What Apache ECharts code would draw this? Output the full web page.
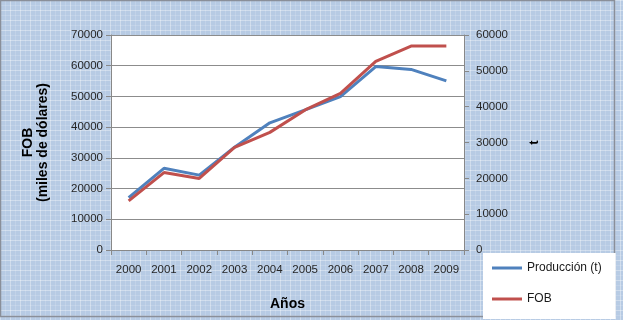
<!DOCTYPE html>
<html>
<head>
<meta charset="utf-8">
<script src="https://cdn.jsdelivr.net/npm/echarts@6/dist/echarts.min.js"></script>
<style>
  html, body { margin: 0; padding: 0; }
  #chart { width: 623px; height: 320px; }
</style>
</head>
<body>
<div id="chart"></div>
<script>
// datos
var years = ['2000', '2001', '2002', '2003', '2004', '2005', '2006', '2007', '2008', '2009'];
var produccion = [14600, 22800, 20900, 28700, 35500, 39100, 42800, 51200, 50400, 47200]; // t, eje derecho
var fob = [16000, 25200, 23300, 33400, 38300, 45600, 51000, 61400, 66400, 66400];        // miles US$, eje izquierdo

// textura de fondo tipo Excel
function makePattern() {
  var c = document.createElement('canvas');
  c.width = 10; c.height = 10;
  var ctx = c.getContext('2d');
  ctx.fillStyle = '#b7cbe4';
  ctx.fillRect(0, 0, 10, 10);
  ctx.fillStyle = 'rgba(255,255,255,0.35)';
  ctx.fillRect(0, 0, 10, 1);
  ctx.fillRect(0, 0, 1, 10);
  ctx.fillStyle = 'rgba(255,255,255,0.15)';
  ctx.fillRect(0, 5, 10, 1);
  ctx.fillRect(5, 0, 1, 10);
  return c;
}

function plain(v) { return String(v); }

var axisFont = { color: '#262626', fontSize: 11.5, fontFamily: 'Liberation Sans, Arial', formatter: plain };

var option = {
  backgroundColor: { image: makePattern(), repeat: 'repeat' },
  animation: false,
  grid: { left: 111, right: 159, top: 35, bottom: 70 },
  legend: {
    orient: 'vertical',
    left: 483, top: 253,
    width: 131, height: 63,
    backgroundColor: '#fff',
    padding: [9, 14, 14, 9],
    itemGap: 19,
    itemWidth: 30, itemHeight: 3,
    icon: 'rect',
    textStyle: { color: '#1a1a1a', fontSize: 12, fontFamily: 'Liberation Sans, Arial' },
    data: ['Producción (t)', 'FOB']
  },
  xAxis: {
    type: 'category',
    data: years,
    name: 'Años',
    nameLocation: 'middle',
    nameGap: 47,
    nameTextStyle: { fontWeight: 'bold', fontSize: 14, color: '#000', fontFamily: 'Liberation Sans, Arial' },
    axisLine: { lineStyle: { color: '#888' } },
    axisTick: { show: true, lineStyle: { color: '#888' } },
    axisLabel: Object.assign({ margin: 14 }, axisFont)
  },
  yAxis: [{
    type: 'value',
    min: 0, max: 70000, interval: 10000,
    name: 'FOB\n(miles de dólares)',
    nameLocation: 'middle',
    nameGap: 60,
    nameTextStyle: { fontWeight: 'bold', fontSize: 14, color: '#000', lineHeight: 15, fontFamily: 'Liberation Sans, Arial' },
    axisLine: { show: true, lineStyle: { color: '#888' } },
    axisTick: { show: true, lineStyle: { color: '#888' } },
    axisLabel: Object.assign({ margin: 8 }, axisFont),
    splitLine: { lineStyle: { color: '#8c8c8c', width: 1 } }
  }, {
    type: 'value',
    min: 0, max: 60000, interval: 10000,
    position: 'right',
    name: 't',
    nameLocation: 'middle',
    nameRotate: 90,
    nameGap: 64,
    nameTextStyle: { fontWeight: 'bold', fontSize: 13, color: '#000', fontFamily: 'Liberation Sans, Arial' },
    axisLine: { show: true, lineStyle: { color: '#888' } },
    axisTick: { show: true, lineStyle: { color: '#888' } },
    axisLabel: Object.assign({ margin: 12 }, axisFont),
    splitLine: { show: false }
  }],
  series: [{
    name: 'Producción (t)',
    type: 'line',
    yAxisIndex: 1,
    data: produccion,
    showSymbol: false,
    itemStyle: { color: '#4f81bd' },
    lineStyle: { color: '#4f81bd', width: 3 }
  }, {
    name: 'FOB',
    type: 'line',
    yAxisIndex: 0,
    data: fob,
    showSymbol: false,
    itemStyle: { color: '#c0504d' },
    lineStyle: { color: '#c0504d', width: 3 }
  }],
  graphic: [{
    type: 'rect',
    silent: true,
    z: -1,
    shape: { x: 111, y: 35, width: 353, height: 215 },
    style: { fill: '#fff' }
  }, {
    type: 'rect',
    silent: true,
    shape: { x: 0.5, y: 0.5, width: 614, height: 316 },
    style: { fill: 'none', stroke: '#8a8f99', lineWidth: 1.5 }
  }]
};

var chart = echarts.init(document.getElementById('chart'));
chart.setOption(option);
</script>
</body>
</html>
